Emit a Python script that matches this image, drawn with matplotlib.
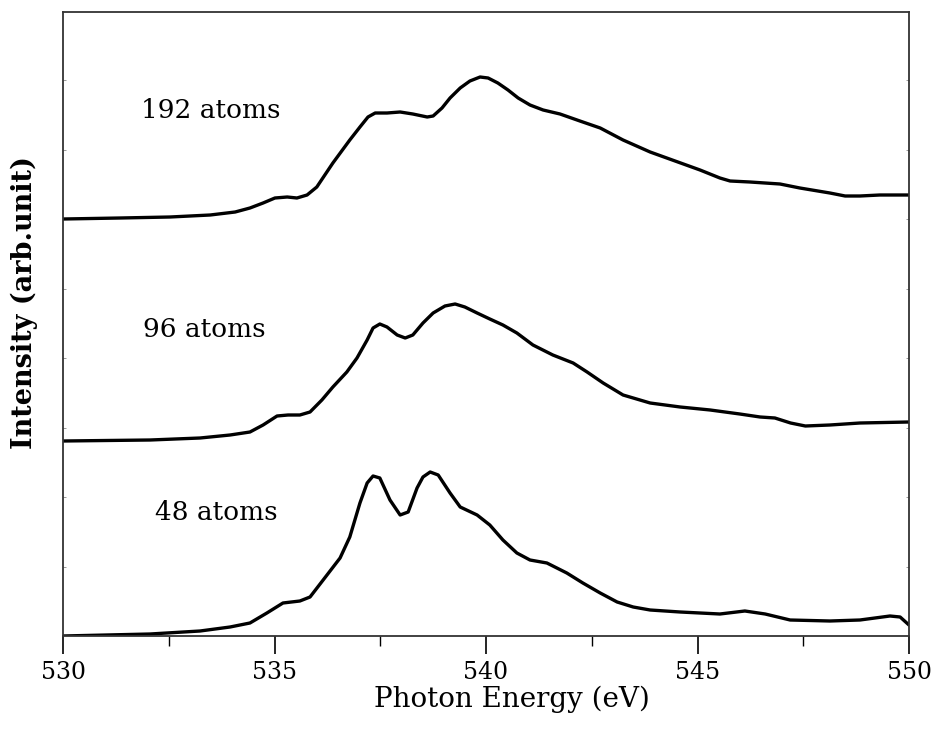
import matplotlib
matplotlib.use("Agg")
import matplotlib.pyplot as plt
import numpy as np

# photon energy (eV) and intensity (arb. unit)
e192 = [530.00, 531.35, 532.53, 533.48, 534.07, 534.42, 534.73, 535.01, 535.30, 535.53,
        535.77, 536.00, 536.38, 536.78, 537.02, 537.21, 537.38, 537.66, 537.97, 538.27,
        538.61, 538.75, 538.96, 539.15, 539.39, 539.62, 539.86, 540.05, 540.28, 540.52,
        540.76, 541.04, 541.35, 541.75, 542.22, 542.70, 543.24, 543.88, 545.06, 545.53,
        545.77, 546.24, 546.95, 547.42, 548.13, 548.49, 548.84, 549.31, 550.00]
i192 = [4.17, 4.18, 4.19, 4.21, 4.24, 4.28, 4.33, 4.38, 4.39, 4.38,
        4.41, 4.49, 4.73, 4.96, 5.09, 5.19, 5.23, 5.23, 5.24, 5.22,
        5.19, 5.20, 5.28, 5.38, 5.48, 5.55, 5.59, 5.58, 5.53, 5.46,
        5.38, 5.31, 5.26, 5.22, 5.15, 5.08, 4.96, 4.84, 4.66, 4.58,
        4.55, 4.54, 4.52, 4.48, 4.43, 4.40, 4.40, 4.41, 4.41]

e96 = [530.00, 532.06, 533.24, 533.95, 534.42, 534.73, 535.06, 535.32, 535.60, 535.84,
       536.12, 536.38, 536.71, 536.95, 537.19, 537.33, 537.49, 537.66, 537.90, 538.09,
       538.27, 538.51, 538.75, 539.03, 539.27, 539.50, 539.79, 540.09, 540.40, 540.73,
       541.11, 541.58, 542.06, 542.39, 542.77, 543.24, 543.88, 544.59, 545.30, 546.00,
       546.48, 546.83, 547.20, 547.55, 548.13, 548.84, 550.00]
i96 = [1.95, 1.96, 1.98, 2.01, 2.04, 2.11, 2.20, 2.21, 2.21, 2.24,
       2.36, 2.49, 2.64, 2.78, 2.96, 3.08, 3.12, 3.09, 3.01, 2.98,
       3.01, 3.13, 3.23, 3.30, 3.32, 3.29, 3.23, 3.17, 3.11, 3.03,
       2.91, 2.81, 2.73, 2.64, 2.53, 2.41, 2.33, 2.29, 2.26, 2.22,
       2.19, 2.18, 2.13, 2.10, 2.11, 2.13, 2.14]

e48 = [530.00, 532.06, 533.24, 533.95, 534.42, 534.82, 535.20, 535.60, 535.84, 536.15,
       536.55, 536.78, 537.02, 537.19, 537.33, 537.49, 537.73, 537.97, 538.16, 538.37,
       538.51, 538.68, 538.87, 539.15, 539.39, 539.79, 540.09, 540.40, 540.73, 541.04,
       541.44, 541.91, 542.29, 542.70, 543.10, 543.48, 543.88, 544.59, 545.53, 546.12,
       546.60, 547.19, 548.13, 548.84, 549.55, 549.79, 550.00]
i48 = [0.00, 0.02, 0.05, 0.09, 0.13, 0.23, 0.33, 0.35, 0.39, 0.56,
       0.78, 0.99, 1.33, 1.53, 1.60, 1.58, 1.36, 1.21, 1.24, 1.48,
       1.59, 1.64, 1.61, 1.43, 1.29, 1.21, 1.11, 0.96, 0.83, 0.76,
       0.73, 0.63, 0.53, 0.43, 0.34, 0.29, 0.26, 0.24, 0.22, 0.25,
       0.22, 0.16, 0.15, 0.16, 0.20, 0.19, 0.11]

labels = ["192 atoms", "96 atoms", "48 atoms"]

plt.rcParams['font.family'] = ['DejaVu Serif']

fig = plt.figure(figsize=(9.37, 7.31), dpi=100)
ax = fig.add_axes([63 / 937, 1 - 636 / 731, (909 - 63) / 937, (636 - 12) / 731])

for e, i in [(e192, i192), (e96, i96), (e48, i48)]:
    ax.plot(e, i, color='black', lw=2.4, solid_joinstyle='round', solid_capstyle='round')

ax.text(531.84, 5.26, labels[0], fontsize=19, va='center')
ax.text(531.89, 3.07, labels[1], fontsize=19, va='center')
ax.text(532.17, 1.23, labels[2], fontsize=19, va='center')

ax.set_xlim(530, 550)
ax.set_ylim(0, 6.24)
ax.set_xticks([530, 535, 540, 545, 550])
ax.set_xticks(np.arange(530, 550.1, 2.5), minor=True)
ax.set_yticks(np.arange(0.695, 6.2, 0.695))
ax.set_yticklabels([])
ax.tick_params(axis='x', which='major', direction='out', length=13, width=1.2,
               labelsize=17, pad=5)
ax.tick_params(axis='x', which='minor', direction='out', length=7, width=1.0)
ax.tick_params(axis='y', direction='in', length=2, width=0.6, right=True, color='#888888')
ax.set_xlabel("Photon Energy (eV)", fontsize=20)
ax.set_ylabel("Intensity (arb.unit)", fontsize=19.5, fontweight='bold')
ax.xaxis.set_label_coords(0.531, -0.080)
ax.yaxis.set_label_coords(-0.029, 0.535)
for s in ax.spines.values():
    s.set_linewidth(1.3)
    s.set_color('#333333')

fig.savefig("out.png", dpi=100)
